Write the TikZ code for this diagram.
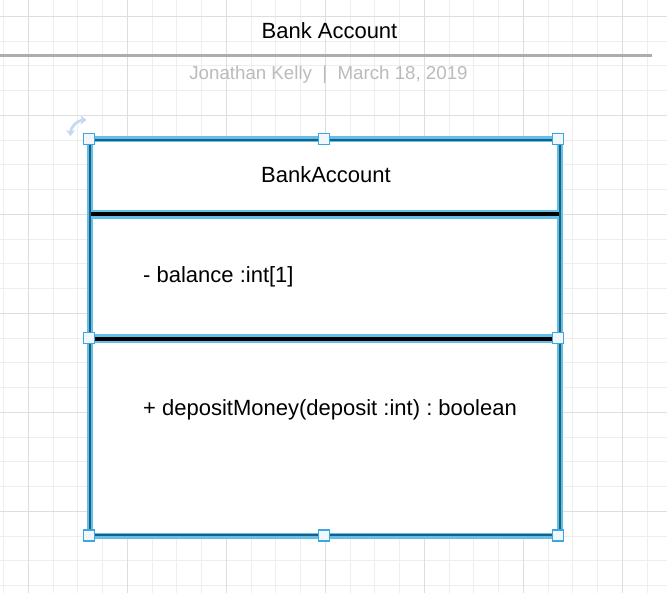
\documentclass[tikz,border=0pt]{standalone}
\usepackage{fontspec}
\setmainfont{Liberation Sans}
\usetikzlibrary{arrows.meta}
\definecolor{gridminor}{HTML}{EEEEEE}
\definecolor{gridmajor}{HTML}{DEDEDE}
\definecolor{selblue}{HTML}{62C0E8}
\definecolor{seldark}{HTML}{1B5F85}
\definecolor{handleblue}{HTML}{3BA6DF}
\definecolor{handlefill}{HTML}{F2F7FB}
\definecolor{rotblue}{HTML}{C3D8F2}
\definecolor{subgray}{HTML}{BBBBBB}
\definecolor{rulegray}{HTML}{ADADAD}
\tikzset{
  minorline/.style={draw=gridminor, line width=1},
  majorline/.style={draw=gridmajor, line width=1.2},
  selband/.style={draw=selblue, line width=6},
  divband/.style={draw=selblue, line width=9.5},
  divline/.style={draw=black, line width=4},
  outline/.style={draw=seldark, line width=2},
  handle/.style={rectangle, draw=handleblue, fill=handlefill, line width=1.3, minimum size=11, inner sep=0},
  umltext/.style={inner sep=0, font=\fontsize{22}{26}\selectfont, text=black},
}
\frenchspacing
\begin{document}
\begin{tikzpicture}[x=1pt,y=-1pt]
\fill[white] (0,0) rectangle (667,593);
\useasboundingbox (0,0) rectangle (667,593);
% grid
\foreach \i in {0,...,26} {
  \pgfmathsetmacro\xx{3.55+24.75*\i}
  \draw[minorline] (\xx,0) -- (\xx,593);
}
\foreach \i in {0,...,23} {
  \pgfmathsetmacro\yy{16.3+24.75*\i}
  \draw[minorline] (0,\yy) -- (667,\yy);
}
\foreach \i in {0,...,6} {
  \pgfmathsetmacro\xx{28.3+99*\i}
  \draw[majorline] (\xx,0) -- (\xx,593);
}
\foreach \i in {0,...,5} {
  \pgfmathsetmacro\yy{16.3+99*\i}
  \draw[majorline] (0,\yy) -- (667,\yy);
}
% header
\node[anchor=base, inner sep=0, font=\fontsize{22}{26}\selectfont] (title) at (329.5,38.3) {Bank Account};
\coordinate (ruleL) at (0,55.6);
\coordinate (ruleR) at (652.3,55.6);
\draw[rulegray, line width=2.3] (ruleL) -- (ruleR);
\node[anchor=base, inner sep=0, text=subgray, font=\fontsize{18.7}{22}\selectfont] (sub) at (328.5,80) {Jonathan Kelly~~|~~March 18, 2019};
% class box
\coordinate (tl) at (90,140);
\coordinate (br) at (559.5,535);
\fill[white] (tl) rectangle (br);
\coordinate (d1l) at (90,214.5);
\coordinate (d1r) at (559.5,214.5);
\coordinate (d2l) at (90,338.7);
\coordinate (d2r) at (559.5,338.7);
\draw[selband] (89.5,138.8) rectangle (560,536.3);
\draw[divband] (d1l) -- (d1r);
\draw[divband] (d2l) -- (d2r);
\draw[divline] (d1l) -- (d1r);
\draw[divline] (d2l) -- (d2r);
\draw[outline] (tl) rectangle (br);
% texts
\node[umltext, anchor=base] (cname) at (326,182.7) {BankAccount};
\node[umltext, anchor=base west] (attr) at (143,283) {- balance :int[1]};
\node[umltext, anchor=base west] (oper) at (143,415.5) {+ depositMoney(deposit :int) : boolean};
% handles
\node[handle] (hnw) at (89,139) {};
\node[handle] (hn) at (324.2,139) {};
\node[handle] (hne) at (558.3,139) {};
\node[handle] (hw) at (88.8,338) {};
\node[handle] (he) at (558.3,338) {};
\node[handle] (hsw) at (89,535.5) {};
\node[handle] (hs) at (324.2,535.5) {};
\node[handle] (hse) at (558.3,535.5) {};
% rotate icon
\coordinate (rotA) at (70.5,136);
\draw[rotblue, line width=2.6, {Stealth[length=6,width=9]}-{Stealth[length=6,width=9]}] (rotA) arc[start angle=180, end angle=270, radius=16];
\end{tikzpicture}
\end{document}
